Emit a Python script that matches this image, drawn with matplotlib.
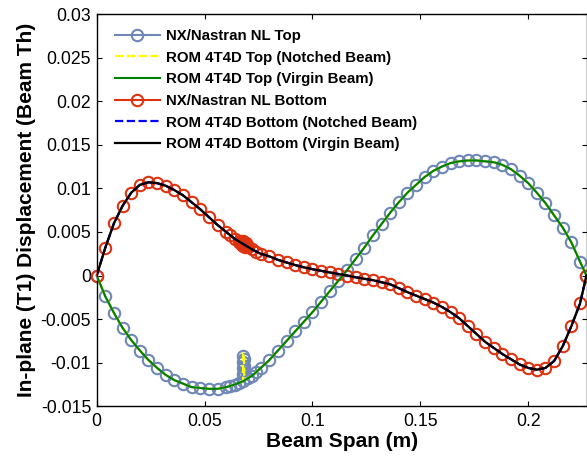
import matplotlib
matplotlib.use('Agg')
import matplotlib.pyplot as plt

# ---------------- data ----------------
x_grid = [0.000, 0.004, 0.008, 0.012, 0.016, 0.020, 0.024, 0.028, 0.032, 0.036,
          0.040, 0.044, 0.048, 0.052, 0.056, 0.060, 0.064, 0.068, 0.072, 0.076,
          0.080, 0.084, 0.088, 0.092, 0.096, 0.100, 0.104, 0.108, 0.112, 0.116,
          0.120, 0.124, 0.128, 0.132, 0.136, 0.140, 0.144, 0.148, 0.152, 0.156,
          0.160, 0.164, 0.168, 0.172, 0.176, 0.180, 0.184, 0.188, 0.192, 0.196,
          0.200, 0.204, 0.208, 0.212, 0.216, 0.220, 0.224, 0.227]

top_virgin = [0.0, -0.0024, -0.0043, -0.0060, -0.0074, -0.0086, -0.0097, -0.0106, -0.0114, -0.0120,
              -0.0124, -0.0128, -0.0129, -0.0130, -0.0130, -0.0128, -0.0125, -0.0121, -0.0115, -0.0106,
              -0.0097, -0.0086, -0.0075, -0.0064, -0.0053, -0.0042, -0.0030, -0.0018, -0.0006, 0.0006,
              0.0019, 0.0032, 0.0046, 0.0059, 0.0072, 0.0084, 0.0095, 0.0104, 0.0113, 0.0120,
              0.0125, 0.0129, 0.0131, 0.0132, 0.0132, 0.0131, 0.0130, 0.0127, 0.0122, 0.01145,
              0.0106, 0.0095, 0.0083, 0.0069, 0.0055, 0.0038, 0.0016, 0.0]

bottom_virgin = [0.0, 0.0032, 0.0060, 0.0080, 0.0095, 0.0104, 0.0107, 0.0106, 0.0103, 0.0098,
                 0.0092, 0.0084, 0.0076, 0.0067, 0.0058, 0.0050, 0.0042, 0.0036, 0.0030, 0.0025,
                 0.0022, 0.0018, 0.0015, 0.0012, 0.00094, 0.00073, 0.00054, 0.00035, 0.00018, 0.0,
                 -0.0002, -0.00037, -0.00053, -0.00077, -0.0010, -0.00145, -0.0019, -0.0023, -0.0027, -0.0031,
                 -0.0036, -0.0042, -0.0049, -0.0058, -0.0067, -0.0076, -0.0083, -0.0090, -0.0096, -0.0102,
                 -0.0106, -0.0108, -0.0106, -0.0098, -0.0081, -0.0058, -0.0032, 0.0]

# notch region of the notched ROM (top surface spike)
notch_x = [0.0678, 0.0679, 0.0683, 0.0684]
notch_top_y = [-0.0121, -0.0089, -0.0089, -0.0120]

# NX/Nastran nodes near the notch (denser mesh); rest follows x_grid from 0.076 on
nx_top_head_x = [0.000, 0.004, 0.008, 0.012, 0.016, 0.020, 0.024, 0.028, 0.032, 0.036,
                 0.040, 0.044, 0.048, 0.052, 0.056, 0.060, 0.062, 0.064, 0.066,
                 0.068, 0.068, 0.068, 0.068, 0.068, 0.0684, 0.0684, 0.0684,
                 0.070, 0.072, 0.074]
nx_top_head_y = [0.0, -0.0024, -0.0043, -0.0060, -0.0074, -0.0086, -0.0097, -0.0106, -0.0114, -0.0120,
                 -0.0124, -0.0128, -0.0129, -0.0130, -0.0130, -0.0128, -0.0127, -0.0125, -0.0123,
                 -0.0121, -0.0113, -0.0106, -0.0099, -0.0092, -0.0096, -0.0104, -0.0112,
                 -0.0118, -0.0115, -0.0111]

nx_bot_head_x = [0.000, 0.004, 0.008, 0.012, 0.016, 0.020, 0.024, 0.028, 0.032, 0.036,
                 0.040, 0.044, 0.048, 0.052, 0.056, 0.060, 0.062, 0.064, 0.066,
                 0.0663, 0.0666, 0.0669, 0.0672, 0.0675, 0.0678, 0.0678, 0.0681, 0.0684,
                 0.0687, 0.069, 0.0693, 0.0696, 0.070, 0.072, 0.074]
nx_bot_head_y = [0.0, 0.0032, 0.0060, 0.0080, 0.0095, 0.0104, 0.0107, 0.0106, 0.0103, 0.0098,
                 0.0092, 0.0084, 0.0076, 0.0067, 0.0058, 0.0050, 0.0046, 0.0042, 0.0039,
                 0.0040, 0.0037, 0.0039, 0.0035, 0.0039, 0.0034, 0.0040, 0.0036, 0.0038,
                 0.0033, 0.0037, 0.0034, 0.0035, 0.0033, 0.0030, 0.0027]

labels = ['NX/Nastran NL Top', 'ROM 4T4D Top (Notched Beam)', 'ROM 4T4D Top (Virgin Beam)',
          'NX/Nastran NL Bottom', 'ROM 4T4D Bottom (Notched Beam)', 'ROM 4T4D Bottom (Virgin Beam)']

x_ticks = [0, 0.05, 0.1, 0.15, 0.2]
x_tick_labels = ['0', '0.05', '0.1', '0.15', '0.2']
y_ticks = [-0.015, -0.01, -0.005, 0, 0.005, 0.01, 0.015, 0.02, 0.025, 0.03]
y_tick_labels = ['-0.015', '-0.01', '-0.005', '0', '0.005', '0.01', '0.015', '0.02', '0.025', '0.03']

# ---------------- build series ----------------
i_tail = x_grid.index(0.076)
nx_top_x = nx_top_head_x + x_grid[i_tail:]
nx_top_y = nx_top_head_y + top_virgin[i_tail:]
nx_bot_x = nx_bot_head_x + x_grid[i_tail:]
nx_bot_y = nx_bot_head_y + bottom_virgin[i_tail:]

pairs = [(x, y) for x, y in zip(x_grid, top_virgin) if x < notch_x[0] or x > notch_x[-1]]
pairs += list(zip(notch_x, notch_top_y))
pairs.sort(key=lambda p: p[0])
rom_notched_top_x = [p[0] for p in pairs]
rom_notched_top_y = [p[1] for p in pairs]
bottom_notched = list(bottom_virgin)

# ---------------- plot ----------------
plt.rcParams['font.family'] = ['Liberation Sans', 'DejaVu Sans']

fig = plt.figure(figsize=(5.87, 4.57), dpi=100)
ax = fig.add_axes([96.7 / 587, (457 - 406.3) / 457, 490 / 587, 392.3 / 457])

c_top = '#6F87B7'
c_bot = '#DD3311'
ax.plot(nx_top_x, nx_top_y, '-o', color=c_top, mfc='none', ms=8.2, mew=1.5, lw=1.5,
        label=labels[0], clip_on=False, zorder=2)
ax.plot(rom_notched_top_x, rom_notched_top_y, '--', color='#FFFF00', lw=1.6, label=labels[1], zorder=3)
ax.plot(x_grid, top_virgin, '-', color='#008000', lw=1.5, label=labels[2], zorder=3)
ax.plot(nx_bot_x, nx_bot_y, '-o', color=c_bot, mfc='none', ms=8.2, mew=1.5, lw=1.5,
        label=labels[3], clip_on=False, zorder=2)
ax.plot(x_grid, bottom_notched, '--', color='#0000FF', lw=1.6, label=labels[4], zorder=3)
ax.plot(x_grid, bottom_virgin, '-', color='black', lw=1.6, label=labels[5], zorder=3)

ax.set_xlim(0, 0.2271)
ax.set_ylim(-0.015, 0.03)
ax.set_xticks(x_ticks)
ax.set_xticklabels(x_tick_labels)
ax.set_yticks(y_ticks)
ax.set_yticklabels(y_tick_labels)
ax.tick_params(direction='in', top=True, right=True, length=3.6, width=0.8,
               labelsize=12.7, pad=4)
ax.tick_params(axis='x', pad=5)
for s in ax.spines.values():
    s.set_linewidth(1.0)

ax.set_xlabel('Beam Span (m)', fontsize=15, fontweight='bold', labelpad=1)
ax.set_ylabel('In-plane (T1) Displacement (Beam Th)', fontsize=15, fontweight='bold', labelpad=3)

leg = ax.legend(loc='upper left', bbox_to_anchor=(0.0373, 0.962), frameon=False,
                prop={'weight': 'bold', 'size': 10.8}, handlelength=3.0, handletextpad=0.4,
                labelspacing=0.51, borderpad=0, borderaxespad=0, numpoints=1)

fig.savefig('out.png', dpi=100)
